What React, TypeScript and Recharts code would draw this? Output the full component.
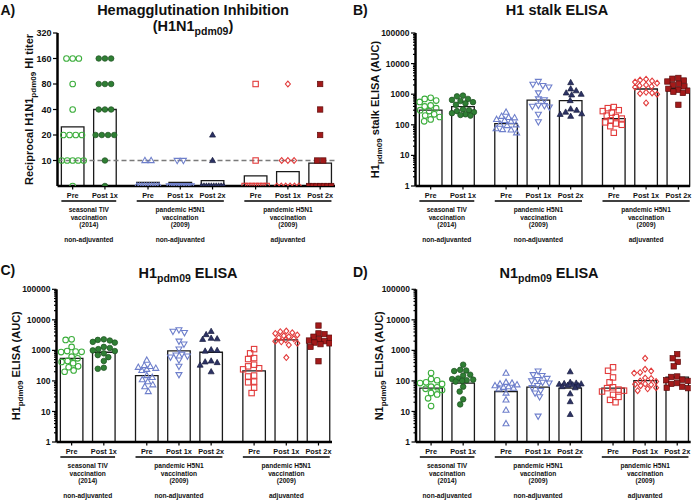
import React from 'react';
import { ComposedChart, Scatter, XAxis, YAxis, ReferenceLine, ReferenceArea } from 'recharts';

const FONT = '"Liberation Sans", Arial, Helvetica, sans-serif';

// ---------- categories / groups ----------
const catLabels = ['Pre', 'Post 1x', 'Pre', 'Post 1x', 'Post 2x', 'Pre', 'Post 1x', 'Post 2x'];
const groupSizes = [2, 3, 3];
const groupLines = [
  ['seasonal TIV', 'vaccination', '(2014)'],
  ['pandemic H5N1', 'vaccination', '(2009)'],
  ['pandemic H5N1', 'vaccination', '(2009)'],
];
const groupAdjuvant = ['non-adjuvanted', 'non-adjuvanted', 'adjuvanted'];

// ---------- marker styles per category ----------
const markerShapes = ['circle', 'circle', 'triUp', 'triDown', 'triUp', 'square', 'diamond', 'square'];
const markerFilled = [false, true, false, false, true, false, false, true];
const markerColors = ['#3DAE3D', '#2F7F34', '#6E7FCB', '#6E7FCB', '#2C3264', '#E23B3B', '#E23B3B', '#A31A1A'];
const markerEdges = ['#3DAE3D', '#1C4F20', '#6E7FCB', '#6E7FCB', '#171B3D', '#E23B3B', '#E23B3B', '#5E0C0C'];

// ---------- A) HI titers ----------
const hiTiters = [
  [160, 160, 160, 80, 40, 20, 20, 20, 20, 10, 10, 10, 10, 10, 5],
  [160, 160, 160, 80, 80, 80, 40, 40, 40, 20, 20, 20, 20, 10, 5],
  [10, 10, 5, 5, 5, 5, 5, 5, 5, 5, 5, 5],
  [10, 10, 5, 5, 5, 5, 5, 5, 5, 5, 5, 5],
  [20, 10, 5, 5, 5, 5, 5, 5, 5, 5, 5, 5],
  [80, 10, 5, 5, 5, 5, 5, 5, 5],
  [80, 10, 10, 10, 5, 5, 5, 5, 5, 5],
  [80, 40, 20, 10, 10, 5, 5, 5, 5, 5, 5, 5],
];
const hiGeoMean = [25, 40, 5.5, 5.5, 5.8, 6.6, 7.4, 9.3];
const hiTicks = [10, 20, 40, 80, 160, 320];

// ---------- B) H1 stalk ELISA ----------
const stalkAuc = [
  [760, 700, 620, 560, 430, 400, 350, 300, 280, 220, 200, 180, 150, 130],
  [900, 850, 700, 650, 600, 550, 500, 450, 320, 300, 280, 260, 240, 220, 210, 200],
  [260, 190, 175, 170, 150, 140, 130, 105, 100, 95, 75, 70, 68, 55],
  [2600, 2100, 1900, 1700, 1100, 700, 650, 430, 420, 400, 380, 220, 125],
  [2400, 1500, 1300, 1100, 1000, 950, 620, 330, 300, 260, 230, 220, 190],
  [380, 350, 300, 280, 250, 200, 180, 160, 140, 120, 110, 100, 90, 55],
  [3100, 2900, 2700, 2500, 2300, 2000, 1900, 1800, 1700, 1150, 1100, 1050, 1000, 520],
  [3400, 3200, 2800, 2600, 2200, 2000, 1800, 1500, 1400, 1300, 1200, 1100, 450],
];
const stalkGeoMean = [300, 395, 110, 640, 620, 160, 1480, 1550];

// ---------- C) H1pdm09 ELISA ----------
const h1Auc = [
  [2300, 2200, 1300, 950, 920, 900, 880, 620, 550, 450, 420, 380, 300, 280, 220, 200],
  [2300, 2200, 2100, 1900, 1800, 1300, 1200, 1100, 1000, 950, 800, 700, 600, 450, 270, 250],
  [480, 320, 300, 280, 260, 240, 220, 150, 130, 110, 95, 75, 65, 45],
  [4700, 4200, 3800, 2000, 1600, 1100, 750, 700, 650, 600, 480, 300, 160],
  [4200, 3300, 2500, 2400, 2300, 1050, 1000, 950, 450, 420, 400, 330, 200],
  [1100, 800, 560, 520, 340, 300, 260, 240, 150, 140, 95, 90, 60, 40],
  [4300, 4100, 3800, 3600, 3200, 3000, 2800, 2600, 2400, 2200, 2000, 1900, 1700, 1500, 580],
  [6500, 3600, 3400, 2800, 2600, 2300, 2100, 2000, 1800, 1700, 1600, 1300, 440],
];
const h1GeoMean = [550, 870, 150, 960, 870, 213, 2200, 2200];

// ---------- D) N1pdm09 ELISA ----------
const n1Auc = [
  [180, 115, 105, 90, 85, 80, 65, 62, 55, 50, 40, 36, 27, 15],
  [340, 230, 220, 210, 160, 150, 120, 115, 110, 105, 100, 95, 65, 45, 25, 17],
  [180, 90, 85, 80, 75, 70, 65, 62, 58, 55, 40, 24, 11, 4],
  [210, 160, 150, 120, 110, 100, 90, 85, 70, 60, 48, 40, 30, 7],
  [200, 90, 85, 82, 80, 78, 75, 72, 70, 65, 60, 38, 21, 8],
  [280, 215, 130, 90, 62, 58, 52, 48, 45, 35, 30, 24, 20],
  [550, 240, 210, 190, 180, 125, 120, 100, 95, 80, 78, 75, 70, 60, 55, 48],
  [750, 550, 420, 300, 140, 135, 110, 105, 100, 85, 80, 65, 60, 58],
];
const n1GeoMean = [58, 85, 45, 63, 58, 58, 103, 133];

const elisaTicks = [1, 10, 100, 1000, 10000, 100000];

// ---------- layout helpers ----------
const X_MIN = -0.47;
const GROUP_GAP = 0.335;
const BAR_HALF = 0.35;

const positions: number[] = (() => {
  const out: number[] = [];
  let p = 0;
  groupSizes.forEach((n, g) => {
    if (g > 0) p += GROUP_GAP;
    for (let i = 0; i < n; i++) {
      out.push(p);
      p += 1;
    }
  });
  return out;
})();

const groupCenters: number[] = (() => {
  const out: number[] = [];
  let k = 0;
  groupSizes.forEach((n) => {
    out.push((positions[k] + positions[k + n - 1]) / 2);
    k += n;
  });
  return out;
})();

const minorLogTicks = (): number[] => {
  const out: number[] = [];
  for (let dec = 1; dec < 100000; dec *= 10) {
    for (let m = 2; m <= 9; m++) out.push(m * dec);
  }
  return out;
};

function rowOffsets(values: number[], d: number, maxW: number): number[] {
  const out = new Array(values.length).fill(0);
  const byVal = new Map<number, number[]>();
  values.forEach((v, i) => {
    if (!byVal.has(v)) byVal.set(v, []);
    byVal.get(v)!.push(i);
  });
  byVal.forEach((ids) => {
    const n = ids.length;
    const s = n > 1 ? Math.min(d, maxW / (n - 1)) : 0;
    ids.forEach((id, k) => {
      out[id] = (k - (n - 1) / 2) * s;
    });
  });
  return out;
}

function swarmOffsets(values: number[], pxPerDecade: number, d: number, maxHalf: number): number[] {
  const order = values.map((_, i) => i).sort((a, b) => values[b] - values[a]);
  const placed: { x: number; y: number }[] = [];
  const out = new Array(values.length).fill(0);
  order.forEach((id, k) => {
    const py = -Math.log10(values[id]) * pxPerDecade;
    const cands: number[] = [0];
    for (let s = 0.5; s <= maxHalf; s += 0.5) {
      if (k % 2 === 0) cands.push(s, -s);
      else cands.push(-s, s);
    }
    let best = 0;
    let bestScore = -1;
    for (const cx of cands) {
      let minD = Infinity;
      for (const p of placed) {
        const dd = Math.hypot(p.x - cx, p.y - py);
        if (dd < minD) minD = dd;
      }
      if (minD >= d) {
        best = cx;
        break;
      }
      if (minD > bestScore) {
        bestScore = minD;
        best = cx;
      }
    }
    placed.push({ x: best, y: py });
    out[id] = best;
  });
  return out;
}

// ---------- markers ----------
function Marker({ cx, cy, i }: { cx: number; cy: number; i: number }) {
  if (cx == null || cy == null || isNaN(cx) || isNaN(cy)) return null;
  const filled = markerFilled[i];
  const fill = filled ? markerColors[i] : 'none';
  const stroke = filled ? markerEdges[i] : markerColors[i];
  const sw = filled ? 0.7 : 1.1;
  switch (markerShapes[i]) {
    case 'circle':
      return <circle cx={cx} cy={cy} r={2.8} fill={fill} stroke={stroke} strokeWidth={sw} />;
    case 'square':
      return <rect x={cx - 2.7} y={cy - 2.7} width={5.4} height={5.4} fill={fill} stroke={stroke} strokeWidth={sw} />;
    case 'triUp':
      return (
        <polygon
          points={`${cx},${cy - 3.2} ${cx + 3},${cy + 2.1} ${cx - 3},${cy + 2.1}`}
          fill={fill}
          stroke={stroke}
          strokeWidth={sw}
        />
      );
    case 'triDown':
      return (
        <polygon
          points={`${cx},${cy + 3.2} ${cx + 3},${cy - 2.1} ${cx - 3},${cy - 2.1}`}
          fill={fill}
          stroke={stroke}
          strokeWidth={sw}
        />
      );
    case 'diamond':
      return (
        <polygon
          points={`${cx},${cy - 2.9} ${cx + 2.5},${cy} ${cx},${cy + 2.9} ${cx - 2.5},${cy}`}
          fill={fill}
          stroke={stroke}
          strokeWidth={sw}
        />
      );
    default:
      return null;
  }
}

// ---------- ticks ----------
const CatTick = (props: any) => {
  const { x, y, payload } = props;
  const idx = positions.findIndex((p) => Math.abs(p - payload.value) < 1e-6);
  return (
    <g>
      <line x1={x} x2={x} y1={y} y2={y + 3.5} stroke="#000" strokeWidth={1.2} />
      <text x={x} y={y + 11.5} textAnchor="middle" fontSize={7.3} fontWeight="bold" fontFamily={FONT} fill="#111">
        {catLabels[idx]}
      </text>
    </g>
  );
};

const GroupTick = (props: any) => {
  const { x, y, payload, slotPx, catH } = props;
  const g = groupCenters.findIndex((c) => Math.abs(c - payload.value) < 1e-6);
  if (g < 0) return null;
  const half = ((groupSizes[g] - 1) / 2 + BAR_HALF) * slotPx;
  const base = y - catH;
  return (
    <g>
      <line x1={x - half} x2={x + half} y1={base + 15} y2={base + 15} stroke="#000" strokeWidth={1.5} />
      {groupLines[g].map((t, k) => (
        <text key={k} x={x} y={base + 26 + k * 7.5} textAnchor="middle" fontSize={6.6} fontWeight="bold" fontFamily={FONT} fill="#111">
          {t}
        </text>
      ))}
      <text x={x} y={base + 56} textAnchor="middle" fontSize={6.6} fontWeight="bold" fontFamily={FONT} fill="#111">
        {groupAdjuvant[g]}
      </text>
    </g>
  );
};

const YTick = (props: any) => {
  const { x, y, payload, majors, fontSize } = props;
  const v = payload.value;
  const isMajor = majors.some((m: number) => Math.abs(m - v) < 1e-9);
  const len = isMajor ? 4.5 : 2.5;
  return (
    <g>
      <line x1={x} x2={x - len} y1={y} y2={y} stroke="#000" strokeWidth={1.2} />
      {isMajor && (
        <text x={x - 6} y={y + fontSize * 0.36} textAnchor="end" fontSize={fontSize} fontWeight="bold" fontFamily={FONT} fill="#111">
          {v}
        </text>
      )}
    </g>
  );
};

// ---------- panel ----------
type PanelProps = {
  left: number;
  top: number;
  width: number;
  height: number;
  yAxisWidth: number;
  marginTop: number;
  marginRight: number;
  catH: number;
  grpH: number;
  xMax: number;
  yDomain: [number, number];
  yMajor: number[];
  yMinor: number[];
  yFont: number;
  values: number[][];
  means: number[];
  mode: 'rows' | 'swarm';
  refLine?: number;
};

function Panel(p: PanelProps) {
  const plotW = p.width - p.yAxisWidth - p.marginRight;
  const plotH = p.height - p.marginTop - p.catH - p.grpH;
  const slotPx = plotW / (p.xMax - X_MIN);
  const pxPerDecade = plotH / (Math.log10(p.yDomain[1]) - Math.log10(p.yDomain[0]));
  const pointSets = p.values.map((vals, i) => {
    const offs = p.mode === 'rows' ? rowOffsets(vals, 6.2, 22) : swarmOffsets(vals, pxPerDecade, 5.8, 11);
    return vals.map((v, j) => ({ x: positions[i] + offs[j] / slotPx, y: v }));
  });

  return (
    <div style={{ position: 'absolute', left: p.left, top: p.top }}>
      <ComposedChart
        width={p.width}
        height={p.height}
        margin={{ top: p.marginTop, right: p.marginRight, bottom: 0, left: 0 }}
        style={{ fontFamily: FONT }}
      >
        <XAxis
          xAxisId={0}
          dataKey="x"
          type="number"
          domain={[X_MIN, p.xMax]}
          allowDataOverflow
          ticks={positions}
          interval={0}
          height={p.catH}
          tickLine={false}
          tickSize={0}
          tickMargin={0}
          axisLine={{ stroke: '#000', strokeWidth: 2.5 }}
          tick={<CatTick />}
        />
        <XAxis
          xAxisId="grp"
          dataKey="x"
          type="number"
          domain={[X_MIN, p.xMax]}
          allowDataOverflow
          ticks={groupCenters}
          interval={0}
          height={p.grpH}
          tickLine={false}
          tickSize={0}
          tickMargin={0}
          axisLine={false}
          tick={<GroupTick slotPx={slotPx} catH={p.catH} />}
        />
        <YAxis
          dataKey="y"
          type="number"
          scale="log"
          domain={p.yDomain}
          allowDataOverflow
          ticks={[...p.yMajor, ...p.yMinor]}
          interval={0}
          width={p.yAxisWidth}
          tickLine={false}
          tickSize={0}
          tickMargin={0}
          axisLine={{ stroke: '#000', strokeWidth: 2.5 }}
          tick={<YTick majors={p.yMajor} fontSize={p.yFont} />}
        />
        {p.means.map((m, i) => (
          <ReferenceArea
            key={`bar-${i}`}
            x1={positions[i] - BAR_HALF}
            x2={positions[i] + BAR_HALF}
            y1={p.yDomain[0]}
            y2={m}
            fill="#fff"
            fillOpacity={1}
            stroke="#1a1a1a"
            strokeWidth={1.3}
          />
        ))}
        {p.refLine != null && (
          <ReferenceLine y={p.refLine} stroke="#7a7a7a" strokeDasharray="5 3" strokeWidth={1.5} />
        )}
        {pointSets.map((pts, i) => (
          <Scatter
            key={i}
            data={pts}
            isAnimationActive={false}
            shape={(sp: any) => <Marker cx={sp.cx} cy={sp.cy} i={i} />}
          />
        ))}
      </ComposedChart>
    </div>
  );
}

// ---------- text overlay ----------
const titleStyle = { fontFamily: FONT, fontWeight: 'bold' as const, fill: '#111' };

function Overlay() {
  return (
    <svg width={696} height={501} style={{ position: 'absolute', left: 0, top: 0, pointerEvents: 'none' }}>
      <text x={0.5} y={15} fontSize={14} {...titleStyle}>A)</text>
      <text x={353} y={15} fontSize={14} {...titleStyle}>B)</text>
      <text x={0.5} y={275} fontSize={14} {...titleStyle}>C)</text>
      <text x={353} y={277} fontSize={14} {...titleStyle}>D)</text>

      <text x={193} y={15} fontSize={14.5} textAnchor="middle" {...titleStyle}>Hemagglutination Inhibition</text>
      <text x={193} y={31} fontSize={14.5} textAnchor="middle" {...titleStyle}>
        (H1N1<tspan fontSize={10.5} dy={4}>pdm09</tspan>
        <tspan dy={-4}>)</tspan>
      </text>
      <text x={557} y={15} fontSize={14.5} textAnchor="middle" {...titleStyle}>H1 stalk ELISA</text>
      <text x={188} y={278} fontSize={14.5} textAnchor="middle" {...titleStyle}>
        H1<tspan fontSize={10.5} dy={4}>pdm09</tspan>
        <tspan dy={-4}> ELISA</tspan>
      </text>
      <text x={549} y={278} fontSize={14.5} textAnchor="middle" {...titleStyle}>
        N1<tspan fontSize={10.5} dy={4}>pdm09</tspan>
        <tspan dy={-4}> ELISA</tspan>
      </text>

      <text transform="translate(32.5,109.5) rotate(-90)" fontSize={11} textAnchor="middle" {...titleStyle}>
        Reciprocal H1N1<tspan fontSize={8} dy={3}>pdm09</tspan>
        <tspan dy={-3}> HI titer</tspan>
      </text>
      <text transform="translate(379,109.5) rotate(-90)" fontSize={11} textAnchor="middle" {...titleStyle}>
        H1<tspan fontSize={8} dy={3}>pdm09</tspan>
        <tspan dy={-3}> stalk ELISA (AUC)</tspan>
      </text>
      <text transform="translate(20,365.8) rotate(-90)" fontSize={11} textAnchor="middle" {...titleStyle}>
        H1<tspan fontSize={8} dy={3}>pdm09</tspan>
        <tspan dy={-3}> ELISA (AUC)</tspan>
      </text>
      <text transform="translate(383,365.8) rotate(-90)" fontSize={11} textAnchor="middle" {...titleStyle}>
        N1<tspan fontSize={8} dy={3}>pdm09</tspan>
        <tspan dy={-3}> ELISA (AUC)</tspan>
      </text>
    </svg>
  );
}

export default function App() {
  const minors = minorLogTicks();
  return (
    <div style={{ position: 'absolute', left: 0, top: 0, width: 696, height: 501, background: '#fff', overflow: 'hidden' }}>
      <Panel
        left={0}
        top={0}
        width={348}
        height={250}
        yAxisWidth={57.5}
        marginTop={33}
        marginRight={13}
        catH={14}
        grpH={50}
        xMax={8.13}
        yDomain={[5, 320]}
        yMajor={hiTicks}
        yMinor={[]}
        yFont={9}
        values={hiTiters}
        means={hiGeoMean}
        mode="rows"
        refLine={10}
      />
      <Panel
        left={348}
        top={0}
        width={348}
        height={250}
        yAxisWidth={67.5}
        marginTop={33}
        marginRight={6}
        catH={14}
        grpH={50}
        xMax={8.03}
        yDomain={[1, 100000]}
        yMajor={elisaTicks}
        yMinor={minors}
        yFont={8.5}
        values={stalkAuc}
        means={stalkGeoMean}
        mode="swarm"
      />
      <Panel
        left={0}
        top={250}
        width={348}
        height={251}
        yAxisWidth={56.5}
        marginTop={39.3}
        marginRight={16}
        catH={14}
        grpH={45}
        xMax={8.09}
        yDomain={[1, 100000]}
        yMajor={elisaTicks}
        yMinor={minors}
        yFont={8.5}
        values={h1Auc}
        means={h1GeoMean}
        mode="swarm"
      />
      <Panel
        left={348}
        top={250}
        width={348}
        height={251}
        yAxisWidth={68}
        marginTop={39.3}
        marginRight={5.3}
        catH={14}
        grpH={45}
        xMax={8.09}
        yDomain={[1, 100000]}
        yMajor={elisaTicks}
        yMinor={minors}
        yFont={8.5}
        values={n1Auc}
        means={n1GeoMean}
        mode="swarm"
      />
      <Overlay />
    </div>
  );
}
